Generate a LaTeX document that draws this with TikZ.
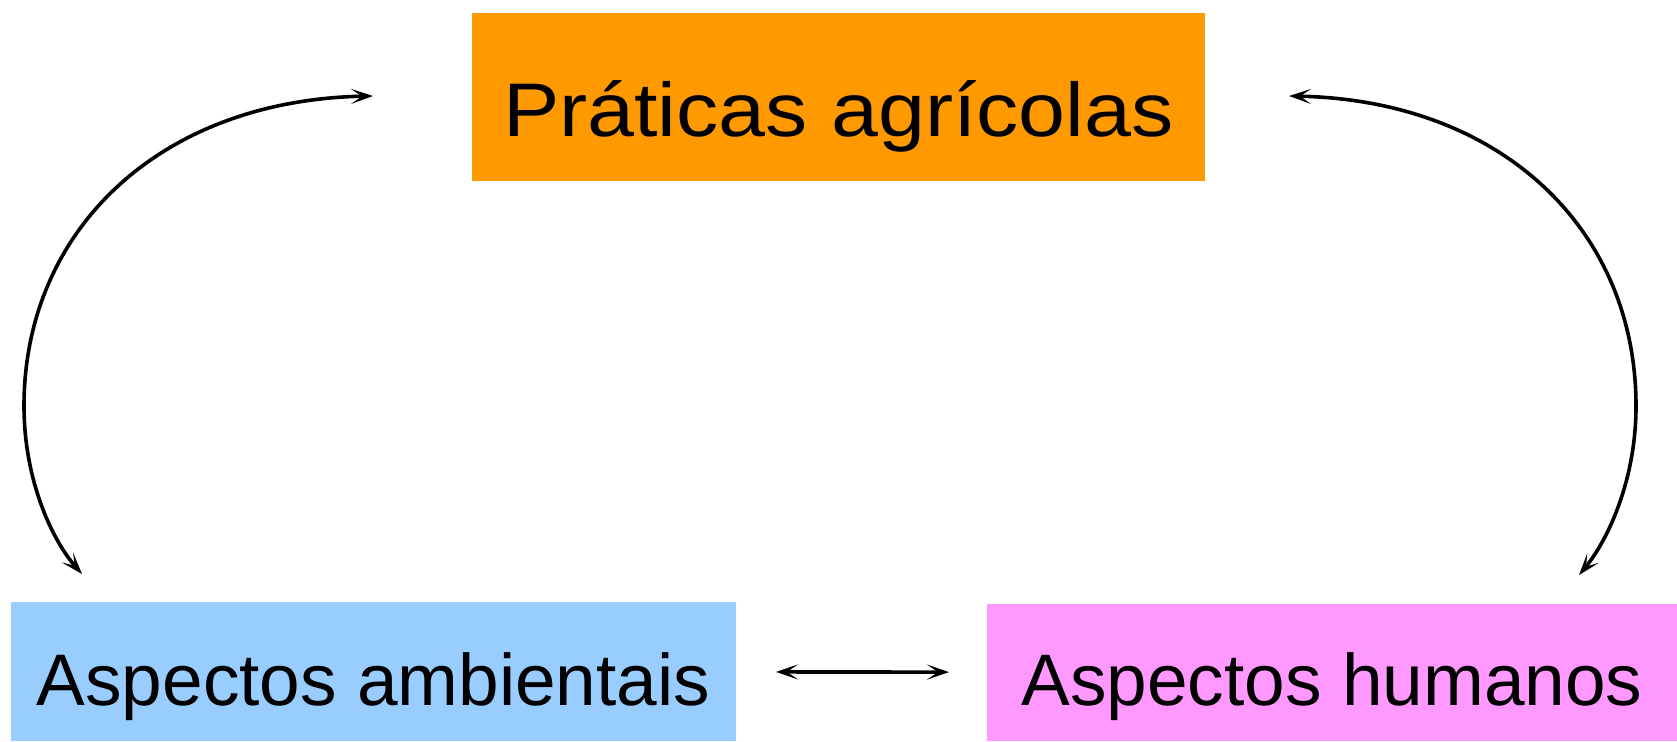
\documentclass[tikz,border=0pt]{standalone}
\usepackage{fontspec}
\setmainfont{Liberation Sans}
\usetikzlibrary{arrows.meta}
\definecolor{orangebox}{HTML}{FF9900}
\definecolor{bluebox}{HTML}{99CCFF}
\definecolor{pinkbox}{HTML}{FF99FF}
\tikzset{
  boxstyle/.style={inner sep=0pt, outer sep=0pt, anchor=north west, align=center, text depth=0pt},
  conn/.style={line width=3.6pt, {Stealth[length=22pt,width=15pt,inset=11pt]}-{Stealth[length=22pt,width=15pt,inset=11pt]}}
}
\begin{document}
\begin{tikzpicture}[x=1pt,y=-1pt]
\useasboundingbox (0,0) rectangle (1677,741);
\fill[white] (0,0) rectangle (1677,741);
\node[boxstyle, fill=orangebox, minimum width=733pt, minimum height=168pt, text height=78pt] (prat) at (472,13)
  {\scalebox{1.11}[1]{\fontsize{76}{90}\selectfont Práticas agrícolas}};
\node[boxstyle, fill=bluebox, minimum width=725pt, minimum height=139pt, text height=67pt] (amb) at (11,602)
  {\fontsize{73}{88}\selectfont Aspectos ambientais};
\node[boxstyle, fill=pinkbox, minimum width=690pt, minimum height=137pt, text height=65pt] (hum) at (987,604)
  {\fontsize{73}{88}\selectfont Aspectos humanos};
\coordinate (L1) at (373,96);
\coordinate (L2) at (82,574);
\coordinate (R1) at (1289,96);
\coordinate (R2) at (1579,575);
\draw[conn] (L1) .. controls (160,100) and (24,230) .. (24,406) .. controls (24,480) and (52,540) .. (L2);
\draw[conn] (R1) .. controls (1502,100) and (1636,230) .. (1636,406) .. controls (1636,480) and (1608,540) .. (R2);
\draw[conn, shorten <=40pt, shorten >=38pt] (amb) -- (hum);
\end{tikzpicture}
\end{document}
